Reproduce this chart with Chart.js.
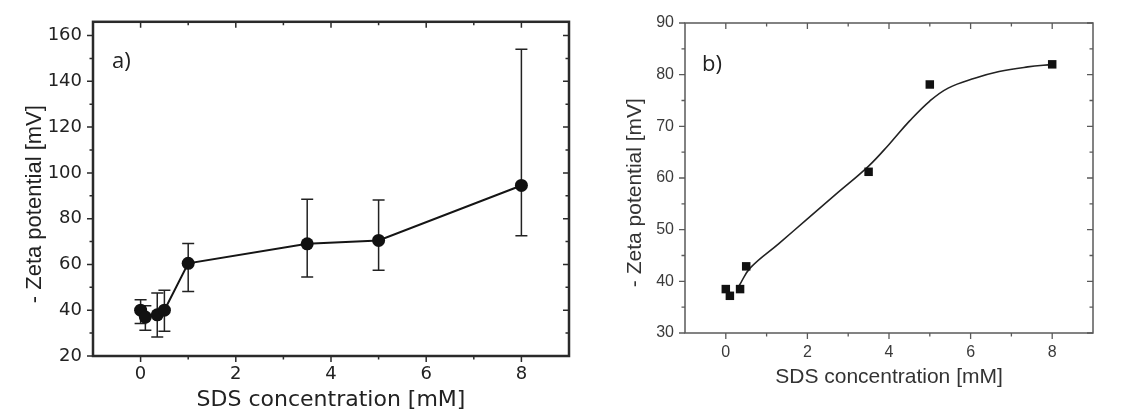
<!DOCTYPE html>
<html>
<head>
<meta charset="utf-8">
<script src="https://cdn.jsdelivr.net/npm/chart.js@4.4.0/dist/chart.umd.min.js"></script>
<style>
  body { margin: 0; background: #fff; }
  #wrapA { position: absolute; left: 0; top: 0; width: 580px; height: 415px; }
  #wrapB { position: absolute; left: 580px; top: 0; width: 554px; height: 415px; }
</style>
</head>
<body>
<div id="wrapA"><canvas id="chartA"></canvas></div>
<div id="wrapB"><canvas id="chartB"></canvas></div>
<script>
// panel a) - measured zeta potential with error bars
const aConc = [0, 0.1, 0.35, 0.5, 1, 3.5, 5, 8];
const aZeta = [40, 37, 38, 40, 60.5, 69, 70.5, 94.5];
const aErrLow = [34.2, 31.2, 28.3, 30.8, 48.2, 54.5, 57.5, 72.5];
const aErrHigh = [44.6, 42, 47.5, 48.7, 69.2, 88.5, 88.2, 154];
const aXTicks = [0, 2, 4, 6, 8];
const aXMinor = [1, 3, 5, 7];
const aYTicks = [20, 40, 60, 80, 100, 120, 140, 160];
const aYMinor = [30, 50, 70, 90, 110, 130, 150];

// panel b) - points and fitted curve
const bConc = [0, 0.1, 0.35, 0.5, 3.5, 5, 8];
const bZeta = [38.5, 37.2, 38.5, 42.9, 61.2, 78.1, 82.0];
const bFitX = [0.33, 0.6, 1.3, 2.0, 2.75, 3.5, 4.0, 4.5, 5.0, 5.45, 6.1, 6.7, 7.4, 8.0];
const bFitY = [39.2, 42.6, 47.3, 52.1, 57.2, 62.3, 66.5, 71.0, 74.9, 77.4, 79.3, 80.6, 81.5, 82.0];
const bXTicks = [0, 2, 4, 6, 8];
const bXMinor = [1, 3, 5, 7];
const bYTicks = [30, 40, 50, 60, 70, 80, 90];
const bYMinor = [35, 45, 55, 65, 75, 85];

function toPoints(xs, ys) {
    return xs.map((x, i) => ({x: x, y: ys[i]}));
}

// frame box, inward ticks on top/right, outward on left/bottom, plus panel letter
const frameTicks = {
    id: 'frameTicks',
    afterDraw(chart, args, o) {
        const ctx = chart.ctx;
        const a = chart.chartArea;
        const xs = chart.scales.x, ys = chart.scales.y;
        ctx.save();
        ctx.strokeStyle = o.color;
        ctx.lineWidth = o.tickWidth;
        ctx.beginPath();
        const hTicks = (vals, len) => vals.forEach(v => {
            const p = xs.getPixelForValue(v);
            ctx.moveTo(p, a.bottom); ctx.lineTo(p, a.bottom + len);
            ctx.moveTo(p, a.top); ctx.lineTo(p, a.top + len);
        });
        const vTicks = (vals, len) => vals.forEach(v => {
            const p = ys.getPixelForValue(v);
            ctx.moveTo(a.left, p); ctx.lineTo(a.left - len, p);
            ctx.moveTo(a.right, p); ctx.lineTo(a.right - len, p);
        });
        hTicks(xs.ticks.map(t => t.value), o.major);
        hTicks(o.xMinor, o.minor);
        vTicks(ys.ticks.map(t => t.value), o.major);
        vTicks(o.yMinor, o.minor);
        ctx.stroke();
        ctx.lineWidth = o.frameWidth;
        ctx.strokeRect(a.left, a.top, a.right - a.left, a.bottom - a.top);

        ctx.fillStyle = o.labelColor;
        ctx.font = o.labelFont;
        ctx.textAlign = 'left';
        ctx.textBaseline = 'middle';
        ctx.fillText(o.label, a.left + o.labelDx, a.top + o.labelDy);
        ctx.restore();
    }
};

const errorBars = {
    id: 'errorBars',
    beforeDatasetsDraw(chart) {
        const ctx = chart.ctx;
        const xs = chart.scales.x, ys = chart.scales.y;
        ctx.save();
        ctx.strokeStyle = '#222';
        ctx.lineWidth = 1.5;
        ctx.beginPath();
        aConc.forEach((c, i) => {
            const px = xs.getPixelForValue(c);
            const top = ys.getPixelForValue(aErrHigh[i]);
            const bot = ys.getPixelForValue(aErrLow[i]);
            ctx.moveTo(px, top); ctx.lineTo(px, bot);
            ctx.moveTo(px - 6, top); ctx.lineTo(px + 6, top);
            ctx.moveTo(px - 6, bot); ctx.lineTo(px + 6, bot);
        });
        ctx.stroke();
        ctx.restore();
    }
};

function axisX(ticksArr, min, max, h, tickFont, tickColor, pad, titleFont, titleColor, titlePad) {
    return {
        type: 'linear', min: min, max: max,
        afterBuildTicks: s => { s.ticks = ticksArr.map(v => ({value: v})); },
        afterFit: s => { s.height = h; },
        grid: {drawOnChartArea: false, drawTicks: false},
        border: {display: false},
        ticks: {autoSkip: false, maxRotation: 0, padding: pad, color: tickColor, font: tickFont},
        title: {display: true, text: 'SDS concentration [mM]', color: titleColor, font: titleFont, padding: {top: 0, bottom: titlePad}}
    };
}

function axisY(ticksArr, min, max, w, tickFont, tickColor, pad, titleFont, titleColor, titlePad) {
    return {
        type: 'linear', min: min, max: max,
        afterBuildTicks: s => { s.ticks = ticksArr.map(v => ({value: v})); },
        afterFit: s => { s.width = w; },
        grid: {drawOnChartArea: false, drawTicks: false},
        border: {display: false},
        ticks: {autoSkip: false, padding: pad, color: tickColor, font: tickFont},
        title: {display: true, text: '- Zeta potential [mV]     ', color: titleColor, font: titleFont, padding: {top: titlePad, bottom: 0}}
    };
}

new Chart(document.getElementById('chartA'), {
    type: 'scatter',
    data: {
        datasets: [{
            data: toPoints(aConc, aZeta),
            showLine: true,
            borderColor: '#151515',
            borderWidth: 2,
            pointRadius: 6.5,
            pointBackgroundColor: '#111',
            pointBorderColor: '#111',
            pointBorderWidth: 0
        }]
    },
    options: {
        responsive: true,
        maintainAspectRatio: false,
        animation: false,
        layout: {padding: {left: 0, top: 6, right: 11, bottom: 0}},
        plugins: {
            legend: {display: false},
            tooltip: {enabled: false},
            frameTicks: {
                color: '#2a2a2a', tickWidth: 1.5, frameWidth: 2.5, major: 6, minor: 3.5,
                xMinor: aXMinor, yMinor: aYMinor,
                label: 'a)', labelFont: '22px "Open Sans"', labelColor: '#222', labelDx: 19, labelDy: 40
            }
        },
        scales: {
            x: axisX(aXTicks, -1, 9, 59, {family: 'DejaVu Sans', size: 18}, '#222', 8,
                {family: 'DejaVu Sans', size: 22}, '#222', 2),
            y: axisY(aYTicks, 20, 166, 93, {family: 'DejaVu Sans', size: 18}, '#222', 11,
                {family: 'Liberation Sans', size: 22}, '#222', 22)
        }
    },
    plugins: [errorBars, frameTicks]
});

new Chart(document.getElementById('chartB'), {
    type: 'scatter',
    data: {
        datasets: [{
            data: toPoints(bConc, bZeta),
            pointStyle: 'rect',
            pointRadius: 6,
            pointBackgroundColor: '#111',
            pointBorderColor: '#111',
            pointBorderWidth: 0
        }, {
            data: toPoints(bFitX, bFitY),
            showLine: true,
            tension: 0.4,
            borderColor: '#222',
            borderWidth: 1.6,
            pointRadius: 0
        }]
    },
    options: {
        responsive: true,
        maintainAspectRatio: false,
        animation: false,
        layout: {padding: {left: 0, top: 23, right: 41, bottom: 0}},
        plugins: {
            legend: {display: false},
            tooltip: {enabled: false},
            frameTicks: {
                color: '#5a5a5a', tickWidth: 1.3, frameWidth: 1.5, major: 6, minor: 3.5,
                xMinor: bXMinor, yMinor: bYMinor,
                label: 'b)', labelFont: '22px "Open Sans"', labelColor: '#222', labelDx: 17, labelDy: 42
            }
        },
        scales: {
            x: axisX(bXTicks, -1, 9, 82, {family: 'Liberation Sans', size: 16}, '#3a3a3a', 10,
                {family: 'Liberation Sans', size: 21}, '#333', 25),
            y: axisY(bYTicks, 30, 90, 105, {family: 'Liberation Sans', size: 16}, '#3a3a3a', 11,
                {family: 'Liberation Sans', size: 21}, '#333', 43)
        }
    },
    plugins: [frameTicks]
});
</script>
</body>
</html>
